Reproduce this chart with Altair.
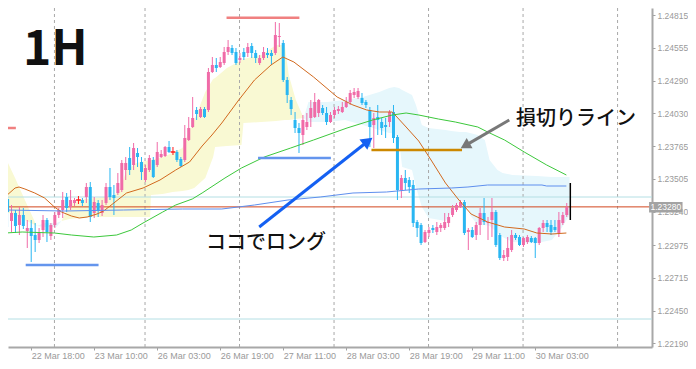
import altair as alt
import pandas as pd

# ---------------- candle data (hourly OHLC) ----------------
opens = [1.23343, 1.23167, 1.23231, 1.23135, 1.23215, 1.23087, 1.23111, 1.23055, 1.23015, 1.23095,
         1.23175, 1.23047, 1.23135, 1.23215, 1.23255, 1.23359, 1.23279, 1.23311, 1.23335, 1.23335,
         1.23359, 1.23439, 1.23231, 1.23311, 1.23231, 1.23311, 1.23439, 1.23375, 1.23391, 1.23415,
         1.23575, 1.23671, 1.23615, 1.23711, 1.23639, 1.23495, 1.23575, 1.23655, 1.23615, 1.23679,
         1.23687, 1.23759, 1.23719, 1.23719, 1.23663, 1.23655, 1.23815, 1.23919, 1.24055, 1.23999,
         1.24063, 1.24055, 1.24359, 1.24415, 1.24399, 1.24431, 1.24519, 1.24551, 1.24519, 1.24455,
         1.24519, 1.24511, 1.24567, 1.24511, 1.24431, 1.24471, 1.24511, 1.24511, 1.24511, 1.24639,
         1.24591, 1.24295, 1.24135, 1.23975, 1.23911, 1.23855, 1.23919, 1.23991, 1.23999, 1.24031,
         1.24071, 1.24031, 1.23959, 1.24015, 1.24047, 1.24039, 1.24079, 1.24119, 1.24175, 1.24159,
         1.24151, 1.24119, 1.24055, 1.23935, 1.23999, 1.23959, 1.23935, 1.23959, 1.24039, 1.23839,
         1.23415, 1.23511, 1.23495, 1.23455, 1.23159, 1.23135, 1.22999, 1.23071, 1.23111, 1.23079,
         1.23111, 1.23111, 1.23151, 1.23215, 1.23255, 1.23279, 1.23319, 1.23079, 1.23095, 1.23055,
         1.23135, 1.23231, 1.23151, 1.23175, 1.23239, 1.23055, 1.22871, 1.22879, 1.22935, 1.23055,
         1.23039, 1.22975, 1.22999, 1.23031, 1.23031, 1.22991, 1.23111, 1.23151, 1.23135, 1.23119,
         1.23071, 1.23151, 1.23215]
highs = [1.23359, 1.23295, 1.23255, 1.23279, 1.23271, 1.23175, 1.23175, 1.23151, 1.23111, 1.23215,
         1.23191, 1.23151, 1.23239, 1.23271, 1.23399, 1.23391, 1.23415, 1.23351, 1.23367, 1.23351,
         1.23471, 1.23479, 1.23359, 1.23335, 1.23335, 1.23471, 1.23591, 1.23455, 1.23551, 1.23655,
         1.23679, 1.23759, 1.23791, 1.23751, 1.23679, 1.23615, 1.23695, 1.23679, 1.23799, 1.23735,
         1.23767, 1.23807, 1.23759, 1.23735, 1.23679, 1.23935, 1.23999, 1.24159, 1.24079, 1.24079,
         1.24079, 1.24391, 1.24479, 1.24471, 1.24479, 1.24559, 1.24615, 1.24575, 1.24551, 1.24511,
         1.24551, 1.24591, 1.24591, 1.24535, 1.24495, 1.24559, 1.24551, 1.24535, 1.24759, 1.24751,
         1.24615, 1.24319, 1.24159, 1.24039, 1.23951, 1.24015, 1.24031, 1.24135, 1.24191, 1.24143,
         1.24095, 1.24079, 1.24039, 1.24079, 1.24087, 1.24119, 1.24159, 1.24215, 1.24231, 1.24231,
         1.24191, 1.24135, 1.24079, 1.24031, 1.24095, 1.23991, 1.23991, 1.24055, 1.24095, 1.23855,
         1.23535, 1.23575, 1.23519, 1.23495, 1.23175, 1.23151, 1.23095, 1.23119, 1.23135, 1.23159,
         1.23151, 1.23231, 1.23231, 1.23295, 1.23311, 1.23335, 1.23335, 1.23111, 1.23119, 1.23159,
         1.23271, 1.23351, 1.23199, 1.23351, 1.23255, 1.23071, 1.22935, 1.23039, 1.23095, 1.23071,
         1.23055, 1.23039, 1.23055, 1.23047, 1.23039, 1.23119, 1.23175, 1.23175, 1.23175, 1.23175,
         1.23239, 1.23239, 1.23311]
lows = [1.23119, 1.23079, 1.23071, 1.23055, 1.23103, 1.22951, 1.22839, 1.22919, 1.22991, 1.23039,
        1.22999, 1.23015, 1.23111, 1.23191, 1.23191, 1.23239, 1.23255, 1.23287, 1.23303, 1.23287,
        1.23311, 1.23159, 1.23191, 1.23199, 1.23207, 1.23295, 1.23335, 1.23215, 1.23375, 1.23399,
        1.23495, 1.23535, 1.23575, 1.23599, 1.23495, 1.23479, 1.23559, 1.23511, 1.23599, 1.23671,
        1.23679, 1.23711, 1.23695, 1.23639, 1.23599, 1.23639, 1.23807, 1.23911, 1.23975, 1.23991,
        1.23991, 1.24039, 1.24351, 1.24359, 1.24391, 1.24415, 1.24495, 1.24495, 1.24415, 1.24431,
        1.24455, 1.24479, 1.24471, 1.24431, 1.24415, 1.24455, 1.24471, 1.24415, 1.24495, 1.24559,
        1.24279, 1.24111, 1.24015, 1.23871, 1.23711, 1.23775, 1.23895, 1.23919, 1.23991, 1.23999,
        1.24015, 1.23935, 1.23951, 1.23991, 1.24023, 1.24031, 1.24071, 1.24095, 1.24151, 1.24143,
        1.24095, 1.24071, 1.23759, 1.23751, 1.23855, 1.23855, 1.23831, 1.23919, 1.23791, 1.23335,
        1.23351, 1.23415, 1.23391, 1.23119, 1.23039, 1.22975, 1.22991, 1.23039, 1.23071, 1.23055,
        1.23079, 1.23095, 1.23119, 1.23199, 1.23239, 1.23271, 1.23055, 1.22935, 1.23031, 1.23015,
        1.23055, 1.23135, 1.23015, 1.23039, 1.22959, 1.22855, 1.22847, 1.22847, 1.22919, 1.23015,
        1.22967, 1.22959, 1.22983, 1.22991, 1.22871, 1.22975, 1.23079, 1.23079, 1.23055, 1.23079,
        1.23039, 1.23135, 1.23199]
closes = [1.23239, 1.23231, 1.23127, 1.23215, 1.23127, 1.23111, 1.23047, 1.23015, 1.23071, 1.23175,
          1.23079, 1.23135, 1.23215, 1.23255, 1.23335, 1.23271, 1.23335, 1.23335, 1.23335, 1.23311,
          1.23439, 1.23199, 1.23319, 1.23247, 1.23295, 1.23439, 1.23359, 1.23351, 1.23471, 1.23631,
          1.23631, 1.23575, 1.23751, 1.23679, 1.23559, 1.23591, 1.23671, 1.23519, 1.23719, 1.23703,
          1.23759, 1.23719, 1.23719, 1.23655, 1.23607, 1.23831, 1.23911, 1.23991, 1.24023, 1.24063,
          1.23999, 1.24359, 1.24415, 1.24391, 1.24439, 1.24519, 1.24559, 1.24511, 1.24431, 1.24471,
          1.24479, 1.24559, 1.24511, 1.24471, 1.24471, 1.24519, 1.24495, 1.24487, 1.24655, 1.24647,
          1.24295, 1.24175, 1.24063, 1.23911, 1.23871, 1.23975, 1.23959, 1.24071, 1.24119, 1.24135,
          1.24031, 1.23959, 1.24015, 1.24055, 1.24063, 1.24079, 1.24119, 1.24191, 1.24199, 1.24207,
          1.24111, 1.24095, 1.23919, 1.23991, 1.23975, 1.23911, 1.23919, 1.24039, 1.23831, 1.23415,
          1.23511, 1.23471, 1.23439, 1.23151, 1.23111, 1.22991, 1.23079, 1.23095, 1.23095, 1.23119,
          1.23135, 1.23159, 1.23199, 1.23271, 1.23295, 1.23319, 1.23071, 1.23095, 1.23039, 1.23135,
          1.23231, 1.23159, 1.23159, 1.23239, 1.22975, 1.22871, 1.22895, 1.22951, 1.23055, 1.23031,
          1.22975, 1.23031, 1.23039, 1.22999, 1.22991, 1.23111, 1.23151, 1.23119, 1.23079, 1.23095,
          1.23175, 1.23215, 1.23279]

# ---------------- cloud (span edges) ----------------
cloud1_x = [-0.6, 1.9, 4.4, 7.4]
cloud1_top = [1.23679, 1.23511, 1.23335, 1.23127]
cloud1_bot = [1.23239, 1.23215, 1.23175, 1.23127]

cloud2_x = [7.4, 9.4, 12.4, 13.7]
cloud2_top = [1.23127, 1.23151, 1.23151, 1.23167]
cloud2_bot = [1.23127, 1.23119, 1.23119, 1.23167]

cloud3_x = [13.7, 15.7, 18.2, 21.9, 26.9, 28.7, 30.2, 32.7, 36.2, 36.4,
            39.4, 41.9, 44.4, 45.9, 47.4, 50.2, 52.2, 52.7, 55.7, 59.4,
            59.9, 64.4, 68.2, 70.4, 71.4, 73.2, 75.2]
cloud3_top = [1.23167, 1.23295, 1.23335, 1.23351, 1.23367, 1.23431, 1.23575, 1.23631, 1.23655, 1.23655,
              1.23679, 1.23711, 1.23751, 1.23871, 1.23975, 1.24199, 1.24303, 1.24311, 1.24391, 1.24455,
              1.24463, 1.24495, 1.24575, 1.24575, 1.24335, 1.24135, 1.23991]
cloud3_bot = [1.23167, 1.23183, 1.23191, 1.23199, 1.23199, 1.23199, 1.23199, 1.23199, 1.23199, 1.23375,
              1.23383, 1.23399, 1.23407, 1.23415, 1.23431, 1.23511, 1.23679, 1.23759, 1.23767, 1.23775,
              1.23951, 1.23959, 1.23967, 1.23975, 1.23975, 1.23983, 1.23991]

cloud4_x = [75.2, 76.4, 81.2, 85.7, 90.2, 94.4, 96.9, 98.2, 99.4, 100.2,
            102.7, 103.7, 105.2, 106.9, 111.2, 112.7, 114.9, 116.4, 117.4, 119.4,
            121.2, 122.4, 124.4, 125.7, 128.2, 134.4, 138.2, 140.7, 142.7]
cloud4_top = [1.23991, 1.24119, 1.24119, 1.24135, 1.24159, 1.24199, 1.24231, 1.24239, 1.24231, 1.24215,
              1.24175, 1.24095, 1.23935, 1.23911, 1.23895, 1.23887, 1.23879, 1.23879, 1.23871, 1.23855,
              1.23815, 1.23655, 1.23575, 1.23551, 1.23535, 1.23527, 1.23519, 1.23519, 1.23519]
cloud4_bot = [1.23991, 1.23959, 1.23959, 1.23975, 1.23935, 1.23895, 1.23871, 1.23871, 1.23815, 1.23599,
              1.23575, 1.23439, 1.23279, 1.23191, 1.23167, 1.23239, 1.23335, 1.23319, 1.23215, 1.23135,
              1.23135, 1.23127, 1.23071, 1.23039, 1.22999, 1.22991, 1.23015, 1.23111, 1.23215]

# ---------------- moving averages ----------------
ma_o_x = [-0.1, 1.9, 2.9, 4.4, 6.9, 9.4, 11.9, 13.7, 16.2, 18.2,
          20.2, 22.7, 24.4, 30.2, 34.4, 38.7, 42.7, 46.2, 49.4, 51.9,
          54.4, 58.7, 62.7, 66.9, 69.9, 72.7, 77.7, 83.7, 87.7, 91.2,
          94.4, 97.7, 101.2, 104.4, 107.7, 111.2, 114.4, 117.7, 121.9, 126.2,
          131.2, 134.4, 138.2, 141.9]
ma_o_y = [1.23375, 1.23431, 1.23439, 1.23423, 1.23391, 1.23351, 1.23279, 1.23239, 1.23207, 1.23191,
          1.23199, 1.23223, 1.23247, 1.23391, 1.23431, 1.23495, 1.23575, 1.23639, 1.23767, 1.23855,
          1.23951, 1.24135, 1.24295, 1.24415, 1.24479, 1.24439, 1.24319, 1.24159, 1.24095, 1.24055,
          1.24039, 1.24039, 1.23919, 1.23807, 1.23647, 1.23471, 1.23343, 1.23223, 1.23159, 1.23119,
          1.23103, 1.23071, 1.23063, 1.23071]

ma_g_x = [-0.6, 3.7, 11.9, 16.2, 21.9, 27.7, 31.4, 34.4, 39.4, 42.7,
          46.9, 49.4, 55.2, 59.4, 65.2, 71.9, 77.7, 86.2, 92.7, 97.7,
          101.2, 104.4, 109.4, 113.7, 119.4, 121.9, 126.2, 131.2, 136.9, 141.9]
ma_g_y = [1.23071, 1.23079, 1.23071, 1.23055, 1.23039, 1.23055, 1.23095, 1.23151, 1.23239, 1.23295,
          1.23343, 1.23391, 1.23511, 1.23591, 1.23679, 1.23751, 1.23815, 1.23911, 1.23975, 1.24015,
          1.24031, 1.24015, 1.23983, 1.23959, 1.23919, 1.23879, 1.23815, 1.23719, 1.23615, 1.23535]

ma_b_x = [-0.6, 14.4, 29.4, 44.4, 54.4, 62.7, 71.2, 79.4, 87.7, 96.2,
          104.4, 112.7, 116.9, 121.9, 135.7, 136.9, 141.9]
ma_b_y = [1.23255, 1.23247, 1.23255, 1.23263, 1.23263, 1.23295, 1.23335, 1.23359, 1.23391, 1.23399,
          1.23423, 1.23431, 1.23439, 1.23455, 1.23455, 1.23447, 1.23447]

# ---------------- horizontal objects / annotations ----------------
level_lines = [1.23359, 1.22383]
bid_price = 1.23280
seg_x1 = [55.6, -1.0, 4.6, 63.6, 92.4]
seg_x2 = [74.1, 2.1, 23.1, 82.1, 115.4]
seg_y = [1.24793, 1.23911, 1.22815, 1.23671, 1.23735]
seg_col = ["#F08080", "#F08080", "#6495ED", "#6495ED", "#CC8800"]

grid_x = [11.9, 34.9, 58.9, 82.9, 106.9, 130.9, 154.9]

xt_vals = [-10, 6, 22, 38, 54, 70, 86, 102, 118, 134]
xt_labels = ["22 Mar 02:00", "22 Mar 18:00", "23 Mar 10:00", "26 Mar 03:00", "26 Mar 19:00",
             "27 Mar 11:00", "28 Mar 03:00", "28 Mar 19:00", "29 Mar 11:00", "30 Mar 03:00"]
y_ticks = [1.24815, 1.24555, 1.24290, 1.24030, 1.23765, 1.23505, 1.23240,
           1.22975, 1.22715, 1.22450, 1.22190]

PINK = "#F06BA8"
BLUE = "#29B6F2"
RED = "#FF1A1A"

# ---------------- scales / axes ----------------
xscale = alt.Scale(domain=[1.375, 162.375], nice=False, zero=False)
yscale = alt.Scale(domain=[1.22159, 1.24871], nice=False, zero=False)

label_expr = ("[" + ",".join("'%s'" % s for s in xt_labels) + "][indexof(["
              + ",".join(str(v) for v in xt_vals) + "], datum.value)]")
xaxis = alt.Axis(values=xt_vals, labelExpr=label_expr, labelAlign="left", labelFontSize=9,
                 labelFont="Liberation Sans", labelColor="#9A9A9A", tickColor="#A0A0A0",
                 tickSize=3, domainColor="#A8A8A8", domainWidth=2, grid=False, title=None,
                 labelPadding=1, labelFlush=False, labelOverlap=False, labelBound=False,
                 labelBaseline="top")
yaxis = alt.Axis(orient="right", values=y_ticks, format=".5f", labelFontSize=8.5,
                 labelFont="Liberation Sans", labelColor="#9A9A9A", tickColor="#A0A0A0",
                 tickSize=3, domainColor="#A8A8A8", domainWidth=2, grid=False, title=None,
                 labelPadding=2, labelFlush=False, labelOverlap=False)


def X(f):
    return alt.X(f, type="quantitative", scale=xscale, axis=xaxis)


def Y(f):
    return alt.Y(f, type="quantitative", scale=yscale, axis=yaxis, stack=None)


# ---------------- data frames ----------------
cols = [PINK if c > o else (BLUE if c < o else RED) for o, c in zip(opens, closes)]
candles = pd.DataFrame({"i": list(range(len(opens))), "o": opens, "h": highs,
                        "l": lows, "c": closes, "col": cols})
doji = candles[candles["o"] == candles["c"]].copy()
doji["a"] = doji["i"] - 0.6
doji["b"] = doji["i"] + 0.6

cloud_rows = []
for seg, (xs, ts, bs, col) in enumerate([
        (cloud1_x, cloud1_top, cloud1_bot, "#F9F9D3"),
        (cloud2_x, cloud2_top, cloud2_bot, "#E6F7FC"),
        (cloud3_x, cloud3_top, cloud3_bot, "#F9F9D3"),
        (cloud4_x, cloud4_top, cloud4_bot, "#E6F7FC")]):
    for xv, t, b in zip(xs, ts, bs):
        cloud_rows.append({"x": xv, "top": t, "bot": b, "seg": "s%d" % seg, "col": col})
cloud = pd.DataFrame(cloud_rows)

ma_rows = []
for name, xs, ys, col in [("o", ma_o_x, ma_o_y, "#D2691E"),
                          ("g", ma_g_x, ma_g_y, "#3CC83C"),
                          ("b", ma_b_x, ma_b_y, "#5E8FEE")]:
    for k, (xv, yv) in enumerate(zip(xs, ys)):
        ma_rows.append({"x": xv, "y": yv, "ma": name, "col": col, "k": k})
mas = pd.DataFrame(ma_rows)

segs = pd.DataFrame({"x1": seg_x1, "x2": seg_x2, "y": seg_y, "col": seg_col})

arrows = pd.DataFrame({"x1": [63.9, 127.4], "y1": [1.23119, 1.23975],
                       "x2": [91.5, 116.2], "y2": [1.23805, 1.23770],
                       "ang": [53, 240], "col": ["#1460F2", "#787878"],
                       "sz": [170, 140]})

texts = pd.DataFrame({
    "x": [3.9, 129.1, 50.4],
    "y": [1.24415, 1.23983, 1.22991],
    "t": ["1H", "損切りライン", "ココでロング"],
})

# ---------------- layers ----------------
cloud_l = alt.Chart(cloud).mark_area(clip=True, interpolate="linear", opacity=1).encode(
    x=X("x"), y=Y("top"), y2=alt.Y2("bot"),
    color=alt.Color("col:N", scale=None), detail="seg:N")

grid_l = alt.Chart(pd.DataFrame({"x": grid_x})).mark_rule(
    clip=True, color="#A8A8A8", strokeDash=[3, 3], strokeWidth=1).encode(x=X("x"))

lvl_l = alt.Chart(pd.DataFrame({"y": level_lines})).mark_rule(
    clip=True, color="#B4DFE4", strokeWidth=1).encode(y=Y("y"))

bid_l = alt.Chart(pd.DataFrame({"y": [bid_price]})).mark_rule(
    clip=True, color="#D2451E", strokeWidth=1).encode(y=Y("y"))

wick_l = alt.Chart(candles).mark_rule(clip=True, strokeWidth=1).encode(
    x=X("i"), y=Y("l"), y2=alt.Y2("h"), color=alt.Color("col:N", scale=None))
body_l = alt.Chart(candles).mark_bar(clip=True, size=3).encode(
    x=X("i"), y=Y("o"), y2=alt.Y2("c"), color=alt.Color("col:N", scale=None))
doji_l = alt.Chart(doji).mark_rule(clip=True, strokeWidth=1.5, color=RED).encode(
    x=X("a"), x2=alt.X2("b"), y=Y("c"))

ma_l = alt.Chart(mas).mark_line(clip=True, strokeWidth=1).encode(
    x=X("x"), y=Y("y"), color=alt.Color("col:N", scale=None), detail="ma:N", order="k:Q")

seg_l = alt.Chart(segs).mark_rule(clip=True, strokeWidth=2.5).encode(
    x=X("x1"), x2=alt.X2("x2"), y=Y("y"), color=alt.Color("col:N", scale=None))

shaft_l = alt.Chart(arrows).mark_rule(strokeWidth=3).encode(
    x=X("x1"), x2=alt.X2("x2"), y=Y("y1"), y2=alt.Y2("y2"),
    color=alt.Color("col:N", scale=None))
head_l = alt.Chart(arrows).mark_point(shape="triangle-up", filled=True, opacity=1).encode(
    x=X("x2"), y=Y("y2"), angle=alt.Angle("ang:Q", scale=None),
    color=alt.Color("col:N", scale=None), size=alt.Size("sz:Q", scale=None))

t1 = alt.Chart(texts.iloc[[0]]).mark_text(
    font="Noto Sans CJK JP", fontWeight="bold", fontSize=48, align="left",
    baseline="alphabetic", color="#111111").encode(x=X("x"), y=Y("y"), text="t:N")
t2 = alt.Chart(texts.iloc[[1, 2]]).mark_text(
    font="Noto Sans CJK JP", fontWeight=500, fontSize=20, align="left",
    baseline="middle", color="#111111").encode(x=X("x"), y=Y("y"), text="t:N")

cur_l = alt.Chart(pd.DataFrame({"x": [142.9], "a": [1.23471], "b": [1.23175]})).mark_rule(
    color="#000000", strokeWidth=1.5).encode(x=X("x"), y=Y("a"), y2=alt.Y2("b"))

box_l = alt.Chart(pd.DataFrame({"a": [162.9], "b": [171.4], "y1": [1.23319], "y2": [1.23235]})).mark_rect(
    color="#A3A3A3").encode(x=X("a"), x2=alt.X2("b"), y=Y("y1"), y2=alt.Y2("y2"))
box_t = alt.Chart(pd.DataFrame({"x": [167.15], "y": [1.23277], "t": ["1.23280"]})).mark_text(
    font="Liberation Sans", fontSize=8.5, color="#FFFFFF", align="center", baseline="middle").encode(
    x=X("x"), y=Y("y"), text="t:N")

chart = alt.layer(
    cloud_l, grid_l, lvl_l, bid_l, wick_l, body_l, doji_l, ma_l, seg_l,
    shaft_l, head_l, t1, t2, cur_l, box_l, box_t
).properties(
    width=644, height=339,
    padding={"left": 0, "top": 0, "right": 36, "bottom": 22},
    autosize=alt.AutoSizeParams(type="none"),
    background="#FFFFFF",
).configure_view(strokeWidth=0)

chart.save("out.html", embed_options={"renderer": "svg", "actions": False})
